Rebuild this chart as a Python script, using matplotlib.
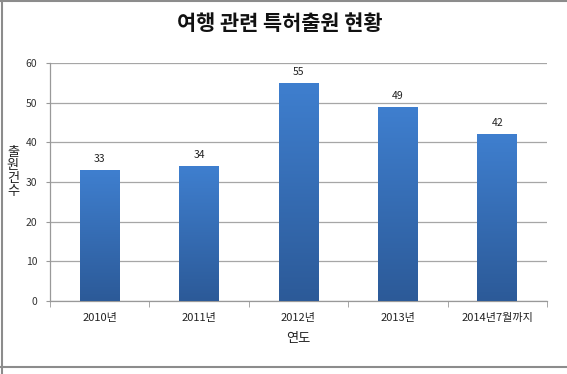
import matplotlib
matplotlib.use("Agg")
import matplotlib.pyplot as plt
import numpy as np
from matplotlib.colors import LinearSegmentedColormap
from matplotlib.lines import Line2D

plt.rcParams['font.family'] = ['Noto Sans CJK KR', 'DejaVu Sans']

categories = ['2010년', '2011년', '2012년', '2013년', '2014년7월까지']
values = [33, 34, 55, 49, 42]
yticks = [0, 10, 20, 30, 40, 50, 60]
title = '여행 관련 특허출원 현황'
xlabel = '연도'
ylabel = '출원건수'

W, H = 567, 374
fig = plt.figure(figsize=(W / 100, H / 100), dpi=100)
ax = fig.add_axes([50 / W, 1 - 301 / H, 497 / W, 238 / H])

x = np.arange(len(categories))
bw = 0.4
bars = ax.bar(x, values, width=bw, color='none', zorder=3)
cmap = LinearSegmentedColormap.from_list('g', ['#2c5a98', '#3f7fcf'])
grad = np.linspace(0, 1, 256).reshape(-1, 1)
for b in bars:
    x0, y0 = b.get_x(), b.get_y()
    w, h = b.get_width(), b.get_height()
    im = ax.imshow(grad, cmap=cmap, origin='lower', aspect='auto',
                   extent=[x0, x0 + w, y0, y0 + h], zorder=3)
    im.set_clip_path(b)
    ax.text(x0 + w / 2, h + 1.5, str(int(h)), ha='center', va='bottom',
            fontsize=7.5, color='#222222')

ax.set_xlim(-0.5, len(categories) - 0.5)
ax.set_ylim(0, 60)
ax.set_yticks(yticks)
ax.set_yticklabels([str(v) for v in yticks], fontsize=7.5, color='#333333')
ax.set_xticks(x)
ax.set_xticklabels(categories, fontsize=8, color='#222222')
ax.tick_params(axis='x', length=0, pad=9)
ax.tick_params(axis='y', length=3, color='#999999', pad=6)
ax.set_xticks(np.arange(-0.5, len(categories)), minor=True)
ax.tick_params(axis='x', which='minor', length=4, color='#999999')
ax.grid(axis='y', color='#a6a6a6', linewidth=0.9, zorder=0)
for s in ['top', 'right']:
    ax.spines[s].set_visible(False)
for s in ['left', 'bottom']:
    ax.spines[s].set_color('#999999')
    ax.spines[s].set_linewidth(0.9)

ax.set_xlabel(xlabel, fontsize=9.5, color='#222222', labelpad=6)
# stacked vertical y label, one character per line
step = 13.0
y_start = 172 - step * (len(ylabel) - 1) / 2
for i, ch in enumerate(ylabel):
    fig.text(13 / W, 1 - (y_start + i * step) / H, ch, ha='center', va='center',
             fontsize=9.5, color='#222222')
fig.text(280 / W, 1 - 24 / H, title, ha='center', va='center',
         fontsize=15, fontweight='bold', color='#111111')

# outer frame
for (xs, ys) in [([1.5 / W, 1.5 / W], [0.5 / H, 1 - 0.5 / H]),
                 ([0, 1], [1 - 0.8 / H, 1 - 0.8 / H]),
                 ([0, 1], [1 - 367 / H, 1 - 367 / H])]:
    fig.add_artist(Line2D(xs, ys, color='#8c8c8c', linewidth=1.5))

fig.savefig('out.png', dpi=100)
